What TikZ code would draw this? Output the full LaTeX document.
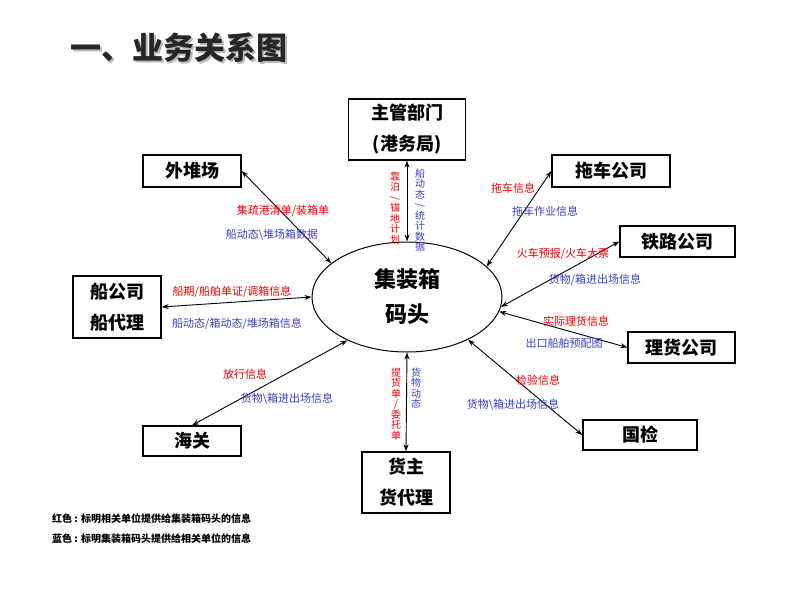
\documentclass[tikz,border=0pt]{standalone}
\usepackage{fontspec}
\usepackage{graphicx}
\setmainfont{Noto Sans CJK SC}
\usetikzlibrary{shapes.geometric,arrows.meta}
\definecolor{infored}{RGB}{240,0,0}
\definecolor{infoblue}{RGB}{60,60,200}
\tikzset{
  unitbox/.style={draw=black,line width=1.3pt,fill=white,inner sep=0pt,align=center,font=\fontsize{18}{31}\selectfont\bfseries},
  hubshape/.style={ellipse,draw=black,line width=1pt,minimum width=190pt,minimum height=110pt,inner sep=0pt,align=center,font=\fontsize{22}{35}\selectfont\bfseries},
  link/.style={draw=black,line width=0.9pt,{Stealth[length=7pt,width=5pt]}-{Stealth[length=7pt,width=5pt]}},
  redlbl/.style={text=infored,inner sep=0pt,font=\fontsize{11}{12}\selectfont},
  bluelbl/.style={text=infoblue,inner sep=0pt,font=\fontsize{11}{12}\selectfont},
  vred/.style={text=infored,inner sep=0pt,align=center,font=\fontsize{10}{10.5}\selectfont},
  vblue/.style={text=infoblue,inner sep=0pt,align=center,font=\fontsize{10}{10.5}\selectfont},
  legend/.style={anchor=west,inner sep=0pt,font=\fontsize{10}{12}\selectfont\bfseries},
}
\newcommand\rsl{\rotatebox[origin=c]{-90}{/}}
\begin{document}
\begin{tikzpicture}[x=1pt,y=-1pt]
\useasboundingbox (0,0) rectangle (800,600);
% title with soft shadow
\node[inner sep=0pt,anchor=west,text=black!28,font=\fontsize{31}{34}\selectfont\bfseries] (titleshadow) at (71.8,49.8) {一、业务关系图};
\node[inner sep=0pt,anchor=west,text=black!85,font=\fontsize{31}{34}\selectfont\bfseries] (title) at (70,48) {一、业务关系图};
% hub
\node[hubshape] (hub) at (407,297) {集装箱\\码头};
% boxes
\node[unitbox,minimum width=117pt,minimum height=61pt] (zg) at (407,129.5) {主管部门\\(港务局)};
\node[unitbox,minimum width=98pt,minimum height=32pt] (wdc) at (192,171) {外堆场};
\node[unitbox,minimum width=118pt,minimum height=32pt] (tc) at (611,171) {拖车公司};
\node[unitbox,minimum width=115pt,minimum height=31pt] (tl) at (677.5,241.5) {铁路公司};
\node[unitbox,minimum width=88pt,minimum height=62pt] (cgs) at (117,307) {船公司\\船代理};
\node[unitbox,minimum width=107pt,minimum height=31pt] (lh) at (681.5,347.5) {理货公司};
\node[unitbox,minimum width=98pt,minimum height=30pt] (hg) at (192,441) {海关};
\node[unitbox,minimum width=88pt,minimum height=61pt] (hz) at (406,482.5) {货主\\货代理};
\node[unitbox,minimum width=114pt,minimum height=30pt] (gj) at (640,435) {国检};
% links
\draw[link] (wdc.east) -- (hub.156.6);
\draw[link] (zg.south) -- (hub.north);
\draw[link] (tc.west) -- (hub.21.7);
\draw[link] (tl.west) -- (hub.-6);
\draw[link] (cgs.east) -- (hub.west);
\draw[link] (lh.west) -- (hub.-9);
\draw[link] (hg.north) -- (hub.216);
\draw[link] (hz.north) -- (hub.south);
\draw[link] (gj.west) -- (hub.-35.6);
% labels
\node[redlbl] (l1r) at (283,211) {集疏港清单/装箱单};
\node[bluelbl] (l1b) at (272,235) {船动态\textbackslash 堆场箱数据};
\node[vred] (l2r) at (395,208) {靠\\泊\\\rsl\\锚\\地\\计\\划};
\node[vblue] (l2b) at (420,210) {船\\动\\态\\\rsl\\统\\计\\数\\据};
\node[redlbl] (l3r) at (513,188) {拖车信息};
\node[bluelbl] (l3b) at (545,211) {拖车作业信息};
\node[redlbl] (l4r) at (563,254) {火车预报/火车大票};
\node[bluelbl] (l4b) at (595,280) {货物/箱进出场信息};
\node[redlbl] (l5r) at (576,321) {实际理货信息};
\node[bluelbl] (l5b) at (564,343) {出口船舶预配图};
\node[redlbl] (l6r) at (232,292) {船期/船舶单证/调箱信息};
\node[bluelbl] (l6b) at (237,324) {船动态/箱动态/堆场箱信息};
\node[redlbl] (l7r) at (245,374) {放行信息};
\node[bluelbl] (l7b) at (287,399) {货物\textbackslash 箱进出场信息};
\node[vred] (l8r) at (396,404) {提\\货\\单\\/\\委\\托\\单};
\node[vblue] (l8b) at (416,388) {货\\物\\动\\态};
\node[redlbl] (l9r) at (538,380) {检验信息};
\node[bluelbl] (l9b) at (513,405) {货物\textbackslash 箱进出场信息};
% legend
\node[legend] (leg1) at (52,519) {红色 : 标明相关单位提供给集装箱码头的信息};
\node[legend] (leg2) at (52,539) {蓝色 : 标明集装箱码头提供给相关单位的信息};
\end{tikzpicture}
\end{document}
